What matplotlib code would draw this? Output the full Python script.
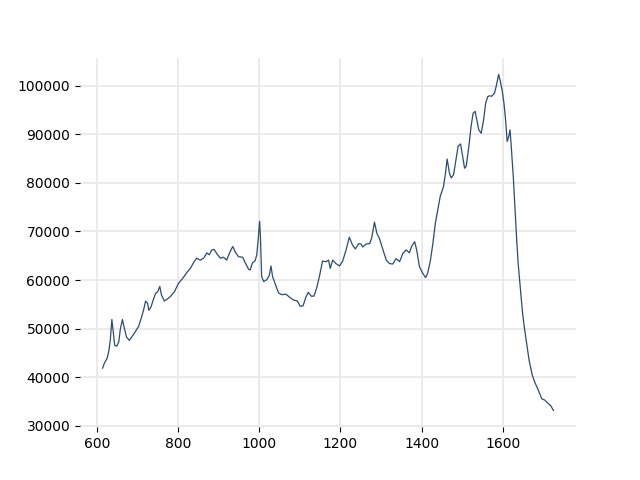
import matplotlib
matplotlib.use("Agg")
import matplotlib.pyplot as plt

# values
wavenumber = [
    614, 619, 625, 629, 633, 637, 640, 644, 649, 654, 658, 663, 668, 673, 680,
    686, 694, 703, 709, 715, 720, 725, 728, 733, 740, 745, 750, 755, 759, 766,
    772, 781, 791, 801, 812, 822, 832, 838, 846, 855, 863, 871, 877, 883, 889,
    895, 904, 912, 920, 925, 931, 935, 941, 949, 959, 966, 974, 978, 983, 990,
    994, 998, 1001, 1003, 1006, 1011, 1019, 1025, 1029, 1033, 1039, 1048, 1056,
    1066, 1076, 1085, 1094, 1101, 1108, 1115, 1121, 1128, 1135, 1142, 1149,
    1156, 1165, 1171, 1175, 1181, 1189, 1198, 1206, 1214, 1222, 1230, 1237,
    1245, 1251, 1255, 1263, 1272, 1277, 1284, 1290, 1296, 1305, 1313, 1321,
    1329, 1337, 1346, 1354, 1362, 1370, 1376, 1383, 1388, 1395, 1403, 1410,
    1415, 1422, 1428, 1434, 1440, 1446, 1454, 1459, 1463, 1469, 1473, 1479,
    1486, 1490, 1496, 1500, 1506, 1510, 1517, 1522, 1527, 1532, 1537, 1541,
    1547, 1553, 1558, 1563, 1567, 1573, 1580, 1584, 1590, 1594, 1599, 1603,
    1607, 1611, 1615, 1618, 1621, 1626, 1630, 1634, 1638, 1644, 1649, 1653,
    1659, 1665, 1673, 1679, 1688, 1696, 1704, 1712, 1718, 1725,
]
intensity = [
    41900, 43000, 43850, 45200, 47600, 51900, 49700, 46600, 46400, 47300, 50000,
    51900, 50000, 48300, 47600, 48300, 49300, 50500, 52100, 53800, 55700, 55200,
    53800, 54400, 56200, 57300, 57600, 58700, 57000, 55700, 56000, 56600, 57600,
    59300, 60400, 61600, 62600, 63600, 64500, 64100, 64500, 65600, 65200, 66200,
    66300, 65500, 64500, 64700, 64100, 65200, 66300, 66900, 65800, 64800, 64700,
    63500, 62200, 62100, 63500, 64000, 65200, 68900, 72100, 68900, 60700, 59700,
    60100, 61000, 62900, 60700, 59300, 57300, 57000, 57100, 56400, 55900, 55700,
    54600, 54700, 56500, 57500, 56700, 56700, 58500, 61000, 63900, 63800, 64100,
    62400, 64100, 63400, 62900, 64000, 66200, 68800, 67200, 66400, 67500, 67400,
    66800, 67400, 67500, 68600, 71900, 69600, 68600, 66200, 64100, 63400, 63300,
    64400, 63800, 65500, 66200, 65600, 67000, 67900, 66200, 62700, 61400, 60500,
    61400, 64100, 67600, 71700, 74400, 77200, 79200, 82000, 84900, 81900, 81000,
    81700, 85400, 87500, 88000, 86100, 83000, 83400, 87800, 91600, 94300, 94700,
    92600, 90900, 90200, 93000, 96400, 97700, 97900, 97800, 98500, 99900, 102300,
    100900, 98800, 96400, 93000, 88500, 89600, 90900, 87500, 81300, 75100, 68900,
    63400, 57900, 53100, 50400, 46900, 43500, 40400, 39000, 37300, 35600, 35300,
    34600, 34200, 33200,
]

fig, ax = plt.subplots(figsize=(6.4, 4.8), dpi=100)
ax.plot(wavenumber, intensity, color="#2d4c72", linewidth=0.9)

ax.grid(True, color="#e8e8e8", linewidth=1.2)
ax.set_axisbelow(True)
for side in ["top", "right", "bottom", "left"]:
    ax.spines[side].set_visible(False)

plt.savefig("out.png", dpi=100)
plt.close()
